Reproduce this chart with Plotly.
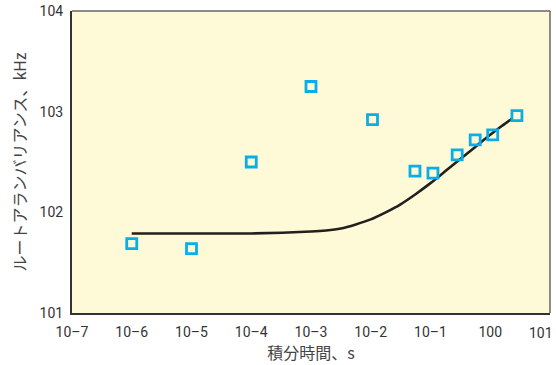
import plotly.graph_objects as go

# Measured points: integration time (s) vs root Allan variance (kHz)
tau_s = [1e-6, 1e-5, 1e-4, 1e-3, 1.07e-2, 0.055, 0.11, 0.28, 0.56, 1.1, 2.8]
dev_khz = [101.69, 101.64, 102.50, 103.25, 102.92, 102.41, 102.39, 102.57, 102.72, 102.77, 102.96]

curve_tau = [1e-6, 1e-5, 1e-4, 1e-3, 1.78e-3, 3.16e-3, 5.62e-3, 1e-2, 1.78e-2, 3.16e-2,
             5.62e-2, 0.1, 0.178, 0.316, 0.562, 1.0, 1.58, 2.3]
curve_khz = [101.79, 101.79, 101.79, 101.81, 101.82, 101.84, 101.88, 101.93, 102.00, 102.08,
             102.18, 102.29, 102.41, 102.53, 102.65, 102.77, 102.86, 102.93]

x_tickvals = [1e-7, 1e-6, 1e-5, 1e-4, 1e-3, 1e-2, 1e-1, 1, 10]
x_ticktext = ["10–7", "10–6", "10–5", "10–4", "10–3", "10–2", "10–1", "100", "101"]
y_tickvals = [101, 102, 103, 104]

FONT = "Liberation Sans Narrow, Roboto, Arial"

fig = go.Figure()
fig.add_trace(go.Scatter(
    x=curve_tau, y=curve_khz, mode="lines",
    line=dict(color="#231f20", width=2.6, shape="spline", smoothing=0.6),
    hoverinfo="skip", showlegend=False,
))
fig.add_trace(go.Scatter(
    x=tau_s, y=dev_khz, mode="markers",
    marker=dict(symbol="square-open", size=10, color="#0aaee6",
                line=dict(width=2.8, color="#0aaee6")),
    showlegend=False,
))

# The rightmost decade label would run past the page edge, so it is placed
# as a right-aligned annotation instead of an axis tick label.
axis_labels = x_ticktext[:-1] + [""]

fig.update_layout(
    width=556, height=365,
    margin=dict(l=72, r=6, t=11, b=52),
    paper_bgcolor="white",
    plot_bgcolor="#fef9d6",
    font=dict(family=FONT, size=14, color="#333333"),
    xaxis=dict(
        type="log", range=[-7, 1.0005],
        tickvals=x_tickvals, ticktext=axis_labels,
        automargin=False,
        showgrid=False, zeroline=False,
        showline=True, linecolor="#333333", linewidth=2,
        ticks="outside", ticklen=5, tickcolor="rgba(0,0,0,0)",
        title=dict(text="積分時間、s", standoff=6,
                   font=dict(family="Noto Sans CJK JP", size=16, color="#444444")),
    ),
    yaxis=dict(
        range=[101, 104], tickvals=y_tickvals,
        automargin=False,
        showgrid=False, zeroline=False,
        showline=True, linecolor="#333333", linewidth=2,
        ticks="outside", ticklen=4, tickcolor="rgba(0,0,0,0)",
        title=dict(text="ルートアランバリアンス、kHz", standoff=9,
                   font=dict(family="Noto Sans CJK JP", size=16, color="#444444")),
    ),
    annotations=[
        dict(text=x_ticktext[-1], xref="paper", yref="paper", x=1.0105, y=0,
             xanchor="right", yanchor="top", yshift=-10, showarrow=False,
             font=dict(family=FONT, size=14, color="#333333")),
    ],
    shapes=[
        dict(type="line", xref="paper", yref="paper", x0=0, x1=1, y0=1, y1=1,
             line=dict(color="#666666", width=1.5)),
        dict(type="line", xref="paper", yref="paper", x0=1, x1=1, y0=0, y1=1,
             line=dict(color="#666666", width=1.5)),
    ],
)

fig.write_html("out.html")
